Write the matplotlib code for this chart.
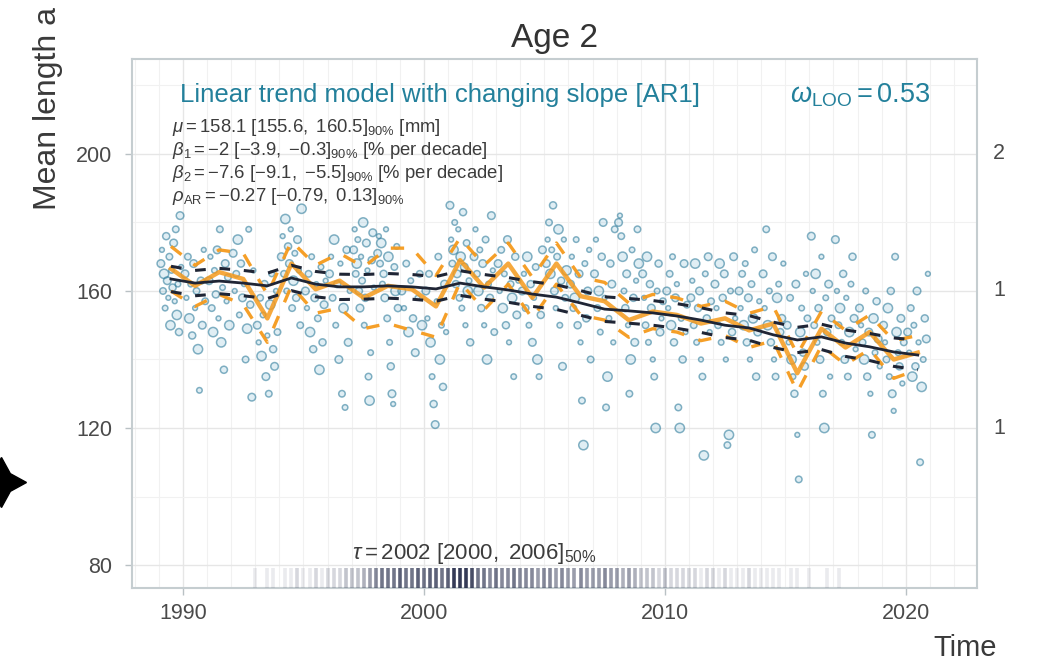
import numpy as np
import matplotlib.pyplot as plt
from matplotlib.ticker import MultipleLocator
from matplotlib.transforms import blended_transform_factory
from matplotlib.lines import Line2D

plt.rcParams['font.family'] = ['Liberation Sans', 'DejaVu Sans']
plt.rcParams['mathtext.fontset'] = 'custom'
plt.rcParams['mathtext.rm'] = 'Liberation Sans'
plt.rcParams['mathtext.it'] = 'Liberation Sans:italic'
plt.rcParams['mathtext.bf'] = 'Liberation Sans:bold'

# sampling seasons (mid-season time stamps)
years = list(range(1990, 2022))

# fitted trend (posterior median + 90% band), mm
fit_mid = [163.5, 162.3, 162.9, 162.3, 161.5, 163.8, 162.0, 161.2, 161.2, 161.5, 161.2, 160.6,
           162.3, 161.2, 160.3, 159.1, 158.2, 156.5, 154.7, 154.2, 153.6, 152.7, 151.5, 150.0,
           149.2, 147.2, 145.7, 146.6, 144.8, 143.7, 142.2, 141.3]
fit_hi = [167.2, 166.0, 166.6, 166.0, 165.2, 167.5, 165.7, 164.9, 164.8, 165.1, 164.8, 164.2,
          165.9, 164.8, 163.9, 162.7, 161.8, 160.1, 158.3, 157.8, 157.2, 156.3, 155.1, 153.6,
          152.8, 150.9, 149.4, 150.3, 148.6, 147.6, 146.3, 145.6]
fit_lo = [159.8, 158.6, 159.2, 158.6, 157.8, 160.1, 158.3, 157.5, 157.6, 157.9, 157.6, 157.0,
          158.7, 157.6, 156.7, 155.5, 154.6, 152.9, 151.1, 150.6, 150.0, 149.1, 147.9, 146.4,
          145.6, 143.5, 142.0, 142.9, 140.9, 139.7, 138.0, 137.0]

# yearly observed means and their intervals
obs_mean = [166.5, 161.5, 165.5, 163.5, 152.0, 168.0, 160.5, 163.0, 158.0, 161.5, 160.5, 155.5,
            169.0, 161.0, 168.0, 158.0, 168.0, 158.5, 157.0, 151.5, 154.0, 153.0, 150.5, 152.0,
            148.5, 150.5, 136.0, 149.0, 143.5, 148.0, 140.0, 142.0]
obs_hi = [173.0, 167.5, 172.0, 171.0, 159.0, 174.5, 167.5, 171.0, 167.0, 172.5, 172.5, 164.5,
          175.5, 167.5, 174.0, 164.0, 174.0, 164.0, 162.5, 156.5, 159.0, 158.0, 155.5, 157.0,
          153.5, 155.5, 141.5, 154.0, 148.5, 153.0, 145.5, 147.0]
obs_lo = [160.0, 155.5, 159.0, 156.0, 145.0, 161.5, 153.5, 155.0, 149.0, 150.5, 148.5, 146.5,
          162.5, 154.5, 162.0, 152.0, 162.0, 153.0, 151.5, 146.5, 149.0, 148.0, 145.5, 147.0,
          143.5, 145.5, 130.5, 144.0, 138.5, 143.0, 134.5, 137.0]

# individual sample mean lengths, one row per season
sample_len = [
    [168, 172, 160, 165, 155, 176, 163, 158, 170, 150, 166, 161, 174, 157, 178, 153, 162, 148, 182, 167],
    [165, 158, 170, 152, 162, 147, 168, 155, 160, 143, 131, 163, 150, 172, 157],
    [163, 170, 155, 148, 166, 159, 172, 152, 178, 145, 161, 137, 168, 157, 164, 150],
    [171, 160, 165, 175, 153, 168, 158, 162, 140, 149, 178, 156, 129, 166],
    [150, 145, 158, 141, 153, 162, 135, 147, 130, 156, 165, 143, 138, 160, 148],
    [170, 176, 165, 181, 160, 173, 168, 178, 155, 163, 171, 158, 175, 166, 150, 184],
    [160, 155, 165, 148, 170, 143, 158, 162, 152, 137, 167, 145, 156, 163],
    [165, 170, 158, 175, 150, 162, 140, 168, 130, 155, 126, 172, 145, 160],
    [172, 178, 165, 168, 175, 160, 155, 170, 163, 180, 150, 158, 174, 166, 135, 128, 142, 169, 177, 161],
    [171, 176, 168, 174, 162, 165, 158, 178, 152, 170, 145, 138, 130, 127, 167, 160, 173, 155],
    [160, 155, 168, 148, 163, 152, 142, 158, 165, 150],
    [160, 152, 165, 145, 135, 127, 121, 157, 170, 140, 150, 132, 162, 148],
    [185, 175, 168, 172, 180, 162, 165, 178, 158, 170, 155, 183, 167, 150, 174, 160, 163, 145],
    [170, 178, 165, 160, 172, 155, 168, 150, 175, 140, 162, 158, 182, 166, 148],
    [168, 160, 172, 155, 165, 150, 175, 145, 162, 158, 135, 170, 153, 163],
    [160, 165, 155, 170, 150, 162, 145, 158, 167, 140, 135, 153, 172],
    [168, 175, 180, 165, 172, 185, 160, 155, 170, 178, 150, 163, 138, 175, 158, 166],
    [162, 170, 155, 158, 175, 150, 165, 145, 128, 115, 168, 152, 160, 172, 140],
    [165, 175, 155, 160, 148, 170, 180, 158, 126, 135, 152, 168, 162, 145, 178],
    [180, 182, 176, 170, 160, 155, 165, 150, 130, 140, 172, 158, 145, 163, 178, 168],
    [165, 158, 150, 170, 145, 162, 155, 140, 135, 120, 160, 168, 148, 152, 157],
    [160, 155, 165, 150, 170, 145, 158, 162, 126, 120, 152, 140, 168, 148, 156],
    [158, 163, 150, 168, 145, 155, 160, 140, 135, 112, 165, 152, 170, 148, 157],
    [162, 155, 150, 168, 145, 158, 165, 140, 115, 118, 160, 148, 170, 152],
    [160, 155, 165, 150, 168, 145, 158, 140, 162, 152, 172, 135, 148, 157],
    [165, 155, 178, 150, 160, 145, 170, 140, 135, 158, 162, 148, 152, 168],
    [150, 145, 158, 140, 135, 130, 162, 118, 105, 148, 155, 142, 138, 165, 152],
    [176, 160, 150, 165, 145, 155, 140, 170, 130, 120, 158, 148, 162, 135, 152],
    [175, 160, 150, 155, 145, 165, 140, 158, 135, 148, 162, 170, 152, 143],
    [155, 150, 145, 140, 160, 135, 148, 130, 118, 152, 142, 157, 146, 138],
    [150, 145, 140, 155, 135, 160, 130, 125, 170, 148, 142, 138, 152, 133, 145],
    [148, 142, 155, 135, 150, 138, 160, 145, 110, 132, 140, 152, 146, 165],
]

# posterior draws of the breakpoint tau, counted in quarter-year bins from 1993
tau_counts = [1, 0, 1, 1, 0, 1, 1, 2, 1, 1, 2, 1, 2, 2, 2, 3, 3, 3, 4, 5,
              6, 7, 7, 7, 8, 7, 7, 8, 7, 8, 8, 7, 8, 10, 10, 10, 9, 7, 7, 6,
              7, 6, 6, 7, 6, 6, 6, 5, 6, 6, 5, 6, 5, 5, 6, 5, 5, 5, 6, 5,
              5, 4, 5, 4, 3, 3, 3, 2, 3, 2, 2, 2, 2, 2, 1, 2, 2, 1, 2, 1,
              1, 1, 2, 1, 1, 1, 1, 1, 0, 1, 1, 0, 1, 0, 0, 1, 0, 1, 0, 0]
tau_bins = 1993 + 0.25 * np.arange(len(tau_counts))

teal = '#23809b'
orange = '#f59a1c'
navy = '#1f2535'
textgrey = '#3c3c3c'

fig = plt.figure(figsize=(10.6, 6.62), dpi=100)
ax = fig.add_axes([0.1245, 0.1118, 0.797, 0.799])

t = np.array(years) - 0.5

# sample points, spread out across each season
sizes = [30, 12, 22, 45, 16, 26]
px, py, ps = [], [], []
for ti, vals in zip(t, sample_len):
    off = np.linspace(-0.42, 0.42, len(vals))
    for k, v in enumerate(vals):
        px.append(ti + off[k])
        py.append(v)
        ps.append(sizes[k % len(sizes)])
ax.scatter(px, py, s=ps, facecolor=(0.40, 0.68, 0.80, 0.20),
           edgecolor=(0.13, 0.45, 0.58, 0.55), lw=1.1, zorder=2)

# observed means
ax.plot(t, obs_lo, color=orange, lw=2.4, dashes=(4, 4.5), alpha=0.95, zorder=3)
ax.plot(t, obs_hi, color=orange, lw=2.4, dashes=(4, 4.5), alpha=0.95, zorder=3)
ax.plot(t, obs_mean, color=orange, lw=3.2, alpha=0.85, zorder=3)

# fitted trend
ax.plot(t, fit_lo, color=navy, lw=2.2, dashes=(3.5, 4.5), zorder=4)
ax.plot(t, fit_hi, color=navy, lw=2.2, dashes=(3.5, 4.5), zorder=4)
ax.plot(t, fit_mid, color=navy, lw=2.0, zorder=5)

# breakpoint rug along the bottom
tc = np.array(tau_counts)
keep = tc > 0
rug_cols = [(0.12, 0.15, 0.27, 0.9 * c / tc.max()) for c in tc[keep]]
ax.vlines(tau_bins[keep], 0, 0.037, transform=ax.get_xaxis_transform(),
          colors=rug_cols, lw=2.6, zorder=3)

ax.set_xlim(1987.88, 2022.95)
ax.set_ylim(73.3, 227.7)
ax.set_xticks([1990, 2000, 2010, 2020])
ax.set_yticks([80, 120, 160, 200])
ax.xaxis.set_minor_locator(MultipleLocator(1))
ax.yaxis.set_minor_locator(MultipleLocator(20))
ax.tick_params(which='major', length=5, width=1, color='#b9c1c4',
               labelsize=15.5, labelcolor='#4a4a4a')
ax.tick_params(axis='y', pad=9)
ax.tick_params(axis='x', pad=6)
ax.tick_params(which='minor', length=0)
ax.grid(which='major', color='#e6e6e6', lw=1.0)
ax.grid(which='minor', color='#f1f1f1', lw=0.8)
ax.set_axisbelow(True)
for sp in ax.spines.values():
    sp.set_color('#c5cdd0')
    sp.set_linewidth(1.5)

ax.set_title('Age 2', fontsize=24, color='#333333', pad=9)

ax.text(0.057, 0.932, 'Linear trend model with changing slope [AR1]', transform=ax.transAxes,
        fontsize=18.5, color=teal, va='center', ha='left')
ax.text(0.779, 0.932, r'$\omega_{\mathrm{LOO}} = 0.53$', transform=ax.transAxes,
        fontsize=19.5, color=teal, va='center', ha='left')

params = [
    r'$\mu = 158.1\ [155.6,\ 160.5]_{90\%}\ [\mathrm{mm}]$',
    r'$\beta_1 = {-}2\ [{-}3.9,\ {-}0.3]_{90\%}\ [\%\ \mathrm{per\ decade}]$',
    r'$\beta_2 = {-}7.6\ [{-}9.1,\ {-}5.5]_{90\%}\ [\%\ \mathrm{per\ decade}]$',
    r'$\rho_{\mathrm{AR}} = {-}0.27\ [{-}0.79,\ 0.13]_{90\%}$',
]
for k, s in enumerate(params):
    ax.text(0.047, 0.870 - 0.043 * k, s, transform=ax.transAxes,
            fontsize=13.3, color=textgrey, va='center', ha='left')

ax.text(0.26, 0.066, r'$\tau = 2002\ [2000,\ 2006]_{50\%}$', transform=ax.transAxes,
        fontsize=16, color=textgrey, va='center', ha='left')

# shared axis titles of the panel grid
fig.text(997 / 1060, 1 - 648 / 662, 'Time', fontsize=21, color='#3a3a3a',
         ha='right', va='center')
fig.text(48 / 1060, 1 - 210 / 662, 'Mean length a', fontsize=23,
         color='#3a3a3a', rotation=90, ha='center', va='bottom')

# tick labels of the neighbouring panel
tr = blended_transform_factory(fig.transFigure, ax.transData)
for v, s in [(200, '2'), (160, '1'), (120, '1')]:
    ax.text(993 / 1060, v, s, transform=tr, fontsize=15.5, color='#4a4a4a',
            ha='left', va='center', clip_on=False)

fig.add_artist(Line2D([1 / 1060], [1 - 482 / 662], marker=(4, 1, 0), ms=36,
                      color='black', transform=fig.transFigure))

fig.savefig('out.png', dpi=100)
